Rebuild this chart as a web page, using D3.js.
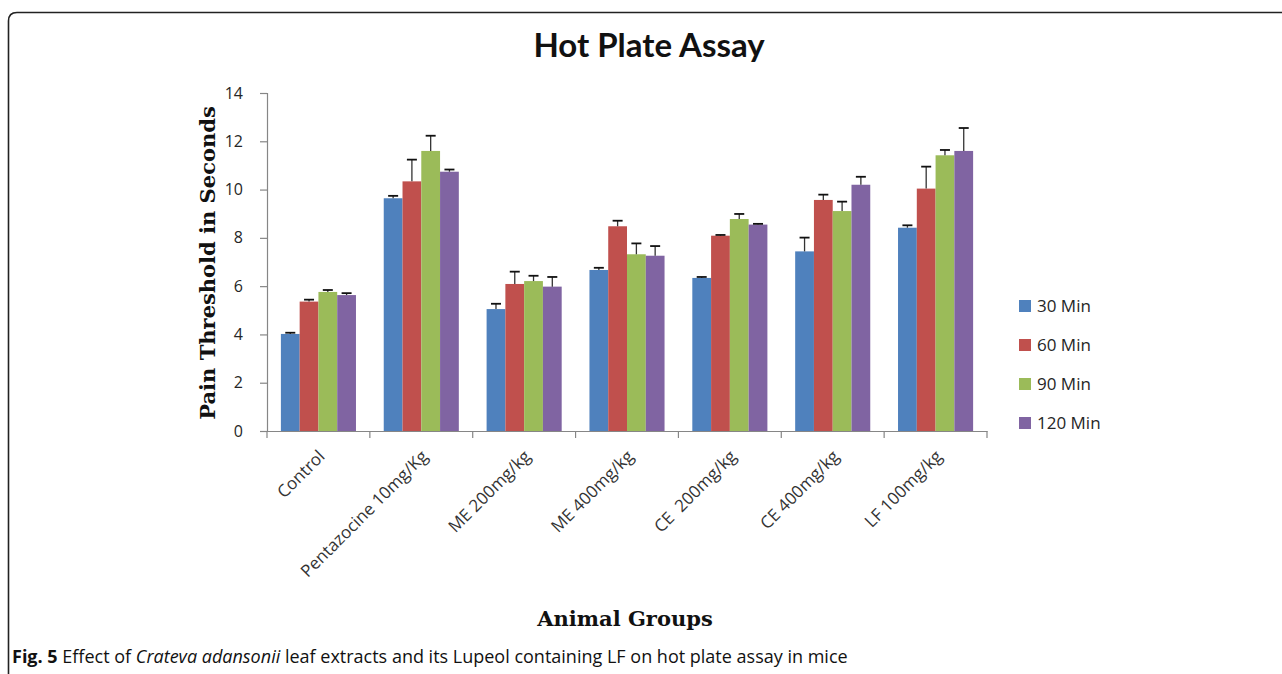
<!DOCTYPE html>
<html>
<head>
<meta charset="utf-8">
<script src="https://cdn.jsdelivr.net/npm/d3@7"></script>
<style>
  html, body { margin: 0; padding: 0; background: #fff; }
  svg { display: block; }
</style>
</head>
<body>
<svg id="chart" width="1282" height="674"></svg>
<script>
// Treatment groups along the x axis
const groups = ["Control", "Pentazocine 10mg/Kg", "ME 200mg/kg", "ME 400mg/kg", "CE  200mg/kg", "CE 400mg/kg", "LF 100mg/kg"];
// Observation times (series)
const series = ["30 Min", "60 Min", "90 Min", "120 Min"];
const seriesColors = ["#4F81BD", "#C0504D", "#9BBB59", "#8064A2"];

// Mean pain threshold (s) per group, one array per time point
const min30  = [4.02, 9.64, 5.05, 6.67, 6.34, 7.44, 8.42];
const min60  = [5.36, 10.34, 6.09, 8.48, 8.09, 9.57, 10.04];
const min90  = [5.76, 11.60, 6.21, 7.32, 8.78, 9.11, 11.42];
const min120 = [5.63, 10.74, 5.98, 7.26, 8.55, 10.20, 11.60];

// Standard error per group, one array per time point
const err30  = [0.05, 0.10, 0.22, 0.09, 0.04, 0.57, 0.10];
const err60  = [0.08, 0.90, 0.51, 0.23, 0.03, 0.22, 0.91];
const err90  = [0.08, 0.63, 0.22, 0.45, 0.21, 0.39, 0.22];
const err120 = [0.08, 0.09, 0.40, 0.40, 0.03, 0.33, 0.95];

const yTicks = [0, 2, 4, 6, 8, 10, 12, 14];

const values = [min30, min60, min90, min120];
const errors = [err30, err60, err90, err120];

const svg = d3.select("#chart");
const sans = "'Open Sans', 'Liberation Sans', sans-serif";

// Figure frame (rounded top-left corner, open to the right and bottom)
svg.append("path")
  .attr("d", "M8.5,674 L8.5,21 Q8.5,12.5 17,12.5 L1282,12.5")
  .attr("fill", "none")
  .attr("stroke", "#222")
  .attr("stroke-width", 1.6);

const plot = { left: 267, right: 987, top: 93, bottom: 431 };

const x0 = d3.scaleBand()
  .domain(groups)
  .range([plot.left, plot.right])
  .paddingInner(0.27)
  .paddingOuter(0.135);

const x1 = d3.scaleBand()
  .domain(series)
  .range([0, x0.bandwidth()]);

const y = d3.scaleLinear()
  .domain([0, 14])
  .range([plot.bottom, plot.top]);

// Bars
const g = svg.append("g");
groups.forEach((grp, gi) => {
  series.forEach((s, si) => {
    const v = values[si][gi];
    g.append("rect")
      .attr("x", x0(grp) + x1(s))
      .attr("y", y(v))
      .attr("width", x1.bandwidth())
      .attr("height", y(0) - y(v))
      .attr("fill", seriesColors[si]);
  });
});

// Error bars (upper only)
groups.forEach((grp, gi) => {
  series.forEach((s, si) => {
    const v = values[si][gi];
    const e = errors[si][gi];
    const cx = x0(grp) + x1(s) + x1.bandwidth() / 2;
    g.append("line")
      .attr("x1", cx).attr("x2", cx)
      .attr("y1", y(v)).attr("y2", y(v + e))
      .attr("stroke", "#333").attr("stroke-width", 1.3);
    g.append("line")
      .attr("x1", cx - 5).attr("x2", cx + 5)
      .attr("y1", y(v + e)).attr("y2", y(v + e))
      .attr("stroke", "#111").attr("stroke-width", 1.8);
  });
});

// Y axis
const yAxis = svg.append("g")
  .attr("transform", `translate(${plot.left},0)`)
  .call(d3.axisLeft(y).tickValues(yTicks).tickSize(7).tickPadding(17).tickFormat(d3.format("d")));
yAxis.select(".domain").attr("stroke", "#868686").attr("stroke-width", 1.2);
yAxis.selectAll(".tick line").attr("stroke", "#868686").attr("stroke-width", 1.2);
yAxis.selectAll(".tick text")
  .attr("fill", "#262626")
  .style("font-family", sans)
  .style("font-size", "16px");

// X axis baseline and ticks between groups
const xAxis = svg.append("g")
  .attr("transform", `translate(0,${plot.bottom})`)
  .call(d3.axisBottom(x0).tickSize(0).tickFormat(""));
xAxis.select(".domain").attr("stroke", "#868686").attr("stroke-width", 1.2);
const step = x0.step();
const boundaries = d3.range(groups.length + 1).map(i => plot.left + i * step);
xAxis.selectAll("line.sep")
  .data(boundaries)
  .join("line")
  .attr("class", "sep")
  .attr("x1", d => d).attr("x2", d => d)
  .attr("y1", 0).attr("y2", 7)
  .attr("stroke", "#868686").attr("stroke-width", 1.2);

// Rotated group labels
groups.forEach(grp => {
  const cx = x0(grp) + x0.bandwidth() / 2;
  svg.append("text")
    .attr("transform", `translate(${cx - 1},${plot.bottom + 18}) rotate(-45)`)
    .attr("text-anchor", "end")
    .attr("dy", "0.7em")
    .attr("fill", "#333")
    .style("font-family", sans)
    .style("font-size", "17px")
    .style("white-space", "pre")
    .text(grp);
});

// Title
svg.append("text")
  .attr("x", 649)
  .attr("y", 57)
  .attr("text-anchor", "middle")
  .attr("fill", "#111")
  .style("font-family", "Lato, 'Open Sans', sans-serif")
  .style("font-weight", "bold")
  .style("font-size", "33px")
  .text("Hot Plate Assay");

// Axis titles
svg.append("text")
  .attr("transform", `translate(215,${(plot.top + plot.bottom) / 2 + 1}) rotate(-90)`)
  .attr("text-anchor", "middle")
  .attr("fill", "#111")
  .style("font-family", "'DejaVu Serif', serif")
  .style("font-weight", "bold")
  .style("font-size", "21px")
  .text("Pain Threshold in Seconds");

svg.append("text")
  .attr("x", 625)
  .attr("y", 626)
  .attr("text-anchor", "middle")
  .attr("fill", "#111")
  .style("font-family", "'DejaVu Serif', serif")
  .style("font-weight", "bold")
  .style("font-size", "21px")
  .text("Animal Groups");

// Legend
const legend = svg.append("g").attr("transform", "translate(1019,300)");
series.forEach((s, i) => {
  const row = legend.append("g").attr("transform", `translate(0,${i * 39})`);
  row.append("rect").attr("width", 12).attr("height", 12).attr("fill", seriesColors[i]);
  row.append("text")
    .attr("x", 18).attr("y", 12)
    .attr("fill", "#262626")
    .style("font-family", sans)
    .style("font-size", "17px")
    .text(s);
});

// Figure caption
const cap = svg.append("text")
  .attr("x", 12).attr("y", 663)
  .attr("fill", "#111")
  .style("font-family", sans)
  .style("font-size", "18px");
cap.append("tspan").style("font-weight", "bold").text("Fig. 5");
cap.append("tspan").text(" Effect of ");
cap.append("tspan").style("font-style", "italic").text("Crateva adansonii");
cap.append("tspan").text(" leaf extracts and its Lupeol containing LF on hot plate assay in mice");
</script>
</body>
</html>
